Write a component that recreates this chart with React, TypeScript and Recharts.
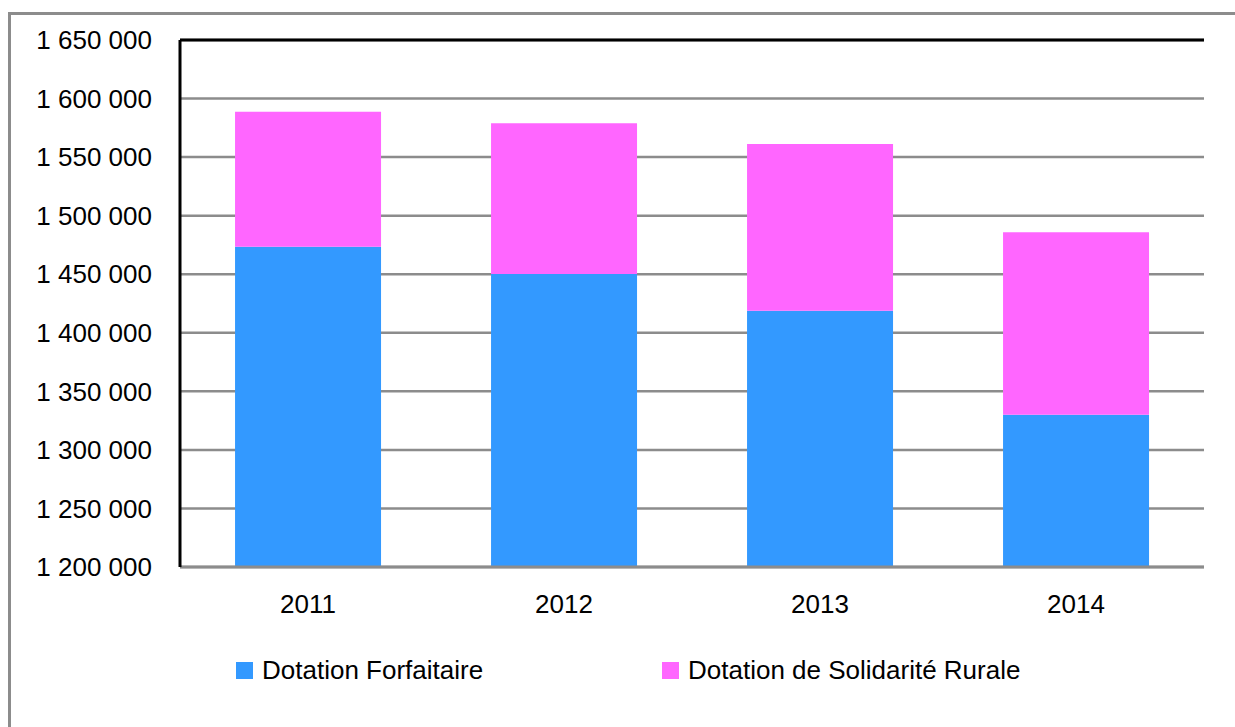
import React from "react";
import { BarChart, Bar, XAxis, YAxis, CartesianGrid, ReferenceLine } from "recharts";

const years = ["2011", "2012", "2013", "2014"];
const dotationForfaitaire = [1473500, 1450200, 1418800, 1329900];
const dotationSolidariteRurale = [115200, 128800, 142300, 155900];
const yTicks = [1200000, 1250000, 1300000, 1350000, 1400000, 1450000, 1500000, 1550000, 1600000, 1650000];

const seriesNames = ["Dotation Forfaitaire", "Dotation de Solidarité Rurale"];
const seriesColors = ["#3399FF", "#FF66FF"];

const data = years.map((y, i) => ({
  year: y,
  df: dotationForfaitaire[i],
  dsr: dotationSolidariteRurale[i],
}));

const fmt = (v: number) => String(v).replace(/\B(?=(\d{3})+(?!\d))/g, " ");

const FONT = "'Liberation Sans', Arial, sans-serif";

const LegendBlock = () => (
  <div style={{ position: "absolute", left: 0, top: 655, width: 1235, height: 36, fontFamily: FONT, fontSize: 26, color: "#000" }}>
    {seriesNames.map((n, i) => (
      <div
        key={n}
        style={{
          position: "absolute",
          left: i === 0 ? 236 : 662,
          top: 0,
          display: "flex",
          alignItems: "center",
          whiteSpace: "nowrap",
        }}
      >
        <span style={{ display: "inline-block", width: 17, height: 17, background: seriesColors[i], marginRight: 9 }} />
        <span>{n}</span>
      </div>
    ))}
  </div>
);

export default function App() {
  return (
    <div style={{ position: "absolute", left: 0, top: 0, width: 1235, height: 727, background: "#fff", overflow: "hidden" }}>
      <div
        style={{
          position: "absolute",
          left: 8,
          top: 12,
          width: 1260,
          height: 760,
          border: "3px solid #8c8c8c",
        }}
      />
      <BarChart
        width={1235}
        height={727}
        data={data}
        margin={{ top: 40, right: 31, bottom: 130, left: 0 }}
        barCategoryGap="21.5%"
        style={{ position: "absolute", left: 0, top: 0 }}
      >
        <CartesianGrid vertical={false} stroke="#8c8c8c" strokeWidth={2.5} />
        <XAxis
          dataKey="year"
          height={30}
          tickLine={false}
          tickSize={0}
          tickMargin={28}
          axisLine={{ stroke: "#8c8c8c", strokeWidth: 3 }}
          tick={{ fill: "#000", fontSize: 26, fontFamily: FONT }}
        />
        <YAxis
          width={180}
          domain={[1200000, 1650000]}
          ticks={yTicks}
          interval={0}
          tickFormatter={fmt}
          tickLine={false}
          tickSize={0}
          tickMargin={28}
          axisLine={{ stroke: "#000", strokeWidth: 3 }}
          tick={{ fill: "#000", fontSize: 26, fontFamily: FONT }}
          allowDataOverflow
        />
        <YAxis
          yAxisId="r"
          orientation="right"
          width={0}
          domain={[1200000, 1650000]}
          tick={false}
          tickLine={false}
          axisLine={{ stroke: "#000", strokeWidth: 3 }}
        />
        <ReferenceLine y={1650000} stroke="#000" strokeWidth={3} />
        <Bar dataKey="df" name={seriesNames[0]} stackId="a" fill={seriesColors[0]} isAnimationActive={false} />
        <Bar dataKey="dsr" name={seriesNames[1]} stackId="a" fill={seriesColors[1]} isAnimationActive={false} />
      </BarChart>
      <LegendBlock />
    </div>
  );
}
